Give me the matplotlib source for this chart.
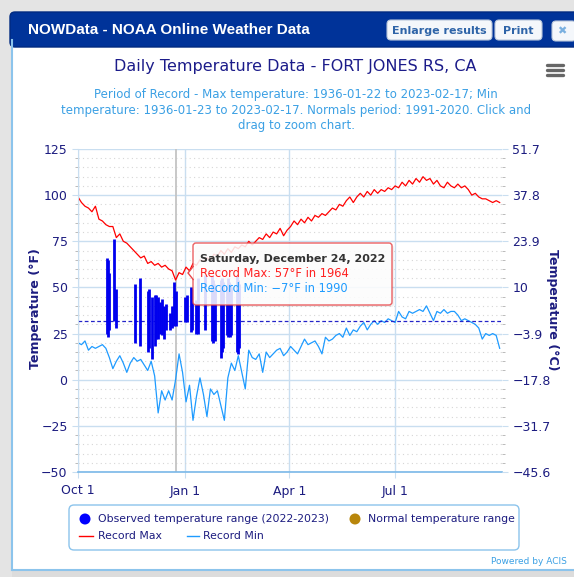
import numpy as np
import matplotlib
matplotlib.use("Agg")
import matplotlib.pyplot as plt
from matplotlib.patches import FancyBboxPatch, Rectangle, Polygon, Circle

plt.rcParams['font.family'] = ['DejaVu Sans']

# ---- data (days counted from Oct 1, record series sampled every 3 days) ----
step = 3
rec_max = [99, 96, 94, 93, 91, 94, 87, 86, 84, 83,
           83, 77, 79, 75, 74, 72, 70, 68, 66, 67,
           63, 64, 62, 63, 61, 62, 60, 59, 54, 58,
           57, 61, 59, 63, 62, 65, 64, 66, 65, 68,
           67, 70, 68, 71, 69, 72, 71, 73, 72, 75,
           73, 75, 77, 76, 79, 77, 80, 79, 82, 78,
           81, 83, 86, 84, 87, 85, 88, 86, 89, 88,
           90, 89, 91, 93, 92, 95, 94, 97, 99, 96,
           99, 101, 99, 102, 100, 103, 101, 103, 102, 104,
           103, 105, 104, 107, 105, 108, 106, 109, 107, 110,
           108, 109, 106, 108, 105, 104, 107, 105, 104, 106,
           104, 105, 103, 100, 101, 99, 98, 98, 97, 96,
           97, 96]
rec_min = [20, 19, 21, 16, 18, 17, 18, 19, 17, 12,
           6, 10, 13, 9, 4, 9, 12, 10, 11, 8,
           5, 10, 2, -18, -6, -11, -6, -11, 0, 14,
           4, -12, -3, -22, -9, 1, -8, -20, -5, -8,
           -6, -14, -22, 1, 9, 5, 13, 4, -5, 16,
           12, 11, 14, 4, 15, 12, 14, 16, 17, 13,
           15, 18, 16, 14, 18, 22, 19, 20, 21, 18,
           14, 23, 21, 22, 24, 25, 23, 28, 24, 27,
           26, 29, 31, 27, 30, 32, 30, 32, 31, 33,
           32, 31, 37, 34, 33, 37, 36, 37, 38, 37,
           40, 36, 32, 37, 36, 38, 36, 37, 37, 35,
           32, 33, 32, 31, 30, 28, 22, 25, 24, 25,
           24, 17]
days = np.arange(len(rec_max)) * step

# observed 2022-2023 daily ranges
obs_day = [25, 26, 27, 31, 33, 49, 53, 60, 61, 64, 66, 67, 69, 71, 72, 74, 76, 79,
           81, 83, 84, 92, 94, 97, 98, 102, 103, 109, 115, 116, 117, 118, 123, 124,
           125, 128, 129, 130, 131, 132, 137, 138, 139]
obs_hi = [66, 65, 58, 76, 49, 52, 55, 48, 49, 45, 46, 46, 45, 42, 44, 40, 41, 36,
          40, 53, 48, 45, 46, 50, 49, 43, 55, 57, 56, 54, 52, 50, 54, 55,
          53, 50, 55, 53, 52, 50, 56, 54, 52]
obs_lo = [25, 23, 27, 32, 28, 20, 18, 15, 17, 11, 18, 22, 22, 25, 24, 22, 27, 27,
          28, 29, 29, 31, 31, 26, 27, 25, 25, 27, 21, 20, 22, 21, 12, 15,
          17, 24, 23, 24, 23, 24, 15, 14, 17]

freeze = 32
hover_day = 84
f_ticks = [-50, -25, 0, 25, 50, 75, 100, 125]
c_labels = ['\u221245.6', '\u221231.7', '\u221217.8', '\u22123.9', '10', '23.9', '37.8', '51.7']
month_pos = [0, 92, 182, 273]
month_lab = ['Oct 1', 'Jan 1', 'Apr 1', 'Jul 1']

# ---- figure ----
W, H = 574, 577
fig = plt.figure(figsize=(W / 100, H / 100), dpi=100)
fig.patch.set_facecolor('#e4e4e4')

def fx(x):
    return x / W

def fy(y):
    return 1 - y / H

navy = '#1c1c80'
grid_blue = '#c9def0'

# background frame
bg = fig.add_axes([0, 0, 1, 1], zorder=0)
bg.set_xlim(0, W)
bg.set_ylim(H, 0)
bg.axis('off')
bg.add_patch(Rectangle((12, 40), W, 530, facecolor='white', edgecolor='none'))
bg.plot([12, 12], [40, 570], color='#8cc4ec', lw=1.5)
bg.add_patch(Rectangle((12, 570), W, 7, facecolor='#dcdcdc', edgecolor='none'))
bg.plot([12, W], [570, 570], color='#8cc4ec', lw=1.5)
bg.add_patch(FancyBboxPatch((10, 12), W, 35, boxstyle='round,pad=0,rounding_size=5',
                            facecolor='#003399', edgecolor='#002a80', lw=1))
for (x0, x1, lab) in [(387, 492, 'Enlarge results'), (495, 542, 'Print')]:
    bg.add_patch(FancyBboxPatch((x0, 20), x1 - x0, 20, boxstyle='round,pad=0,rounding_size=4',
                                facecolor='#f4f7fb', edgecolor='#b8c6da', lw=0.8))
    bg.text((x0 + x1) / 2, 30.5, lab, ha='center', va='center', fontsize=8,
            color='#2e64a8', fontweight='bold')
bg.add_patch(FancyBboxPatch((552, 21), 24, 20, boxstyle='round,pad=0,rounding_size=4',
                            facecolor='#f4f7fb', edgecolor='#b8c6da', lw=0.8))
bg.text(562, 31, '\u2716', ha='center', va='center', fontsize=8, color='#7ab0e0')
bg.text(28, 30, 'NOWData - NOAA Online Weather Data', ha='left', va='center',
        fontsize=11, color='white', fontweight='bold', family='Liberation Sans')
for yy in (65, 70, 75):
    bg.plot([547, 563], [yy, yy], color='#666666', lw=2.4, solid_capstyle='round')

# ---- chart ----
ax = fig.add_axes([fx(78), fy(472), 424 / W, 323 / H], zorder=2)
ax.set_xlim(0, 365)
ax.set_ylim(-50, 125)

ax.set_yticks(f_ticks)
ax.set_yticks(np.arange(-50, 126, 5), minor=True)
ax.set_xticks(month_pos)
ax.set_xticklabels(month_lab)
ax.grid(True, which='major', color=grid_blue, lw=1)
ax.yaxis.grid(True, which='minor', color='#d6d6d6', ls=(0, (1, 3)), lw=0.8)
ax.set_axisbelow(True)

ax.axvline(hover_day, color='#c4c4c4', lw=1.3, zorder=1.5)
ax.vlines(obs_day, obs_lo, obs_hi, color='#0000ee', lw=2.0, zorder=3)
ax.plot(days, rec_max, color='#ff0000', lw=0.9, zorder=2)
ax.plot(days, rec_min, color='#1e9bff', lw=0.9, zorder=2)
ax.axhline(freeze, color='#2424c8', lw=0.9, ls=(0, (3, 2)), zorder=2.5)

for s in ('top', 'right'):
    ax.spines[s].set_visible(False)
ax.spines['left'].set_color(grid_blue)
ax.spines['bottom'].set_color('#7ab8e8')
ax.spines['bottom'].set_linewidth(1.2)
ax.tick_params(axis='both', which='major', colors=grid_blue, labelcolor=navy,
               labelsize=9, length=4)
ax.tick_params(axis='y', which='minor', colors='#b0b0b0', length=2)
ax.tick_params(axis='x', pad=5)

ax2 = ax.twinx()
ax2.set_ylim(-50, 125)
ax2.set_yticks(f_ticks)
ax2.set_yticklabels(c_labels)
ax2.set_yticks(np.arange(-50, 126, 5), minor=True)
for s in ax2.spines.values():
    s.set_visible(False)
ax2.tick_params(axis='y', which='major', colors=grid_blue, labelcolor=navy,
                labelsize=9, length=4)
ax2.tick_params(axis='y', which='minor', colors='#b0b0b0', length=2)

fig.text(fx(35), fy(309), 'Temperature (\u00b0F)', rotation=90, ha='center', va='center',
         fontsize=9, fontweight='bold', color=navy)
fig.text(fx(553), fy(310), 'Temperature (\u00b0C)', rotation=270, ha='center', va='center',
         fontsize=9, fontweight='bold', color=navy)

# titles
fig.text(fx(295), fy(67), 'Daily Temperature Data - FORT JONES RS, CA', ha='center',
         va='center', fontsize=11.5, color='#1c1c8a')
sub = ['Period of Record - Max temperature: 1936-01-22 to 2023-02-17; Min',
       'temperature: 1936-01-23 to 2023-02-17. Normals period: 1991-2020. Click and',
       'drag to zoom chart.']
for i, line in enumerate(sub):
    fig.text(fx(296), fy(95 + 15.5 * i), line, ha='center', va='center',
             fontsize=8.5, color='#3ba0e4')

# ---- tooltip and legend overlay ----
fg = fig.add_axes([0, 0, 1, 1], zorder=10)
fg.set_xlim(0, W)
fg.set_ylim(H, 0)
fg.axis('off')
fg.patch.set_alpha(0)

fg.add_patch(FancyBboxPatch((195, 245), 199, 62, boxstyle='round,pad=0,rounding_size=3',
                            facecolor='#000000', alpha=0.06, edgecolor='none'))
fg.add_patch(FancyBboxPatch((193, 243), 199, 62, boxstyle='round,pad=0,rounding_size=3',
                            facecolor='white', alpha=0.86, edgecolor='#e8474a', lw=1))
fg.add_patch(Polygon([[193.6, 266], [188, 273], [193.6, 280]], closed=False,
                     facecolor='white', edgecolor='#e8474a', lw=1))
fg.text(200, 258.5, 'Saturday, December 24, 2022', fontsize=8, fontweight='bold',
        color='#333333', va='center')
fg.text(200, 273.5, 'Record Max: 57\u00b0F in 1964', fontsize=8.3, color='#ff2020', va='center')
fg.text(200, 288.5, 'Record Min: \u22127\u00b0F in 1990', fontsize=8.3, color='#1e9bff', va='center')

fg.add_patch(FancyBboxPatch((69, 505), 450, 45, boxstyle='round,pad=0,rounding_size=5',
                            facecolor='white', edgecolor='#8cc4ec', lw=1))
fg.add_patch(Circle((85, 519), 5.5, facecolor='#0000ff', edgecolor='none'))
fg.add_patch(Circle((355, 519), 5.5, facecolor='#b8860b', edgecolor='none'))
fg.plot([79, 93], [536, 536], color='#ff0000', lw=1)
fg.plot([187, 199], [536, 536], color='#1e9bff', lw=1)
leg_txt = [(98, 519, 'Observed temperature range (2022-2023)'),
           (368, 519, 'Normal temperature range'),
           (98, 536, 'Record Max'),
           (203, 536, 'Record Min')]
for (x, y, t) in leg_txt:
    fg.text(x, y, t, fontsize=7.8, color=navy, va='center', ha='left')
fg.text(567, 562, 'Powered by ACIS', fontsize=6.5, color='#3ba0e4', ha='right', va='center')

fig.savefig('out.png', dpi=100, facecolor=fig.get_facecolor())
